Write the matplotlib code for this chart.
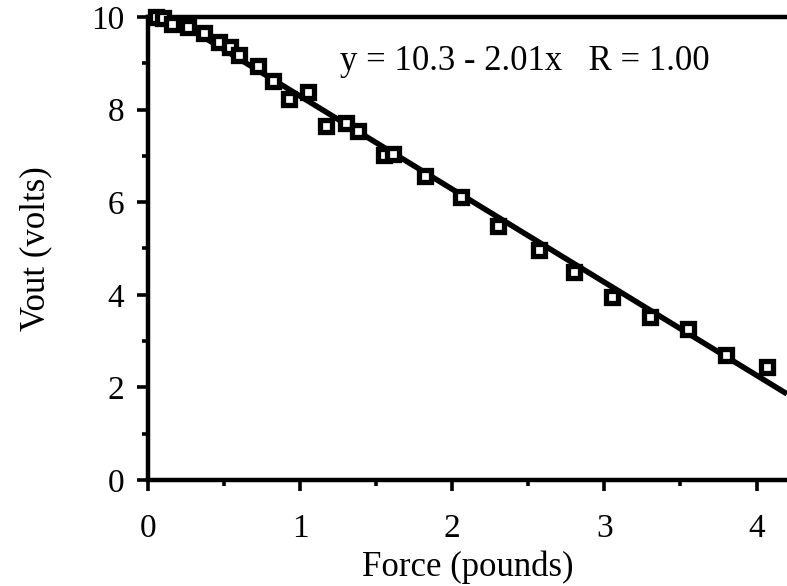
import numpy as np
import matplotlib
matplotlib.use("Agg")
import matplotlib.pyplot as plt
from matplotlib.ticker import MultipleLocator

# Measured force (pounds) and output voltage (volts)
force = [0.05, 0.10, 0.16, 0.26, 0.37, 0.47, 0.54, 0.60, 0.72, 0.82, 0.93, 1.05,
         1.17, 1.30, 1.38, 1.55, 1.61, 1.82, 2.06, 2.30, 2.57, 2.80, 3.05, 3.30,
         3.55, 3.80, 4.07]
vout = [10.00, 9.98, 9.85, 9.78, 9.65, 9.45, 9.35, 9.18, 8.95, 8.62, 8.22, 8.38,
        7.65, 7.70, 7.53, 7.02, 7.04, 6.57, 6.12, 5.48, 4.97, 4.49, 3.96, 3.52,
        3.26, 2.70, 2.44]

# Linear fit coefficients shown on the chart
intercept = 10.3
slope = -2.01
r_value = 1.00

xticks = [0, 1, 2, 3, 4]
yticks = [0, 2, 4, 6, 8, 10]

plt.rcParams['font.family'] = ['Liberation Serif', 'DejaVu Serif']

fig = plt.figure(figsize=(7.87, 5.86), dpi=100)
ax = fig.add_axes([0.188, 0.181, 0.812, 0.790])

xfit = np.linspace(0, 4.2, 200)
ax.plot(xfit, intercept + slope * xfit, color='black', lw=4, zorder=2,
        solid_capstyle='butt')
ax.plot(force, vout, linestyle='none', marker='s', markersize=9,
        markerfacecolor='white', markeredgecolor='black', markeredgewidth=3.8,
        zorder=3, clip_on=False)

ax.set_xlim(0, 4.2)
ax.set_ylim(0, 10)
ax.set_xticks(xticks)
ax.set_yticks(yticks)
ax.xaxis.set_minor_locator(MultipleLocator(0.5))
ax.yaxis.set_minor_locator(MultipleLocator(1))

for side in ('left', 'bottom', 'top'):
    ax.spines[side].set_linewidth(3.2)
ax.spines['right'].set_visible(False)

ax.tick_params(which='major', direction='out', length=8, width=2.6,
               labelsize=24, top=False, right=False)
ax.tick_params(which='minor', direction='out', length=4, width=2.6,
               top=False, right=False)
ax.tick_params(axis='y', which='major', pad=9)
ax.tick_params(axis='x', which='major', pad=16)

ax.set_xlabel('Force (pounds)', fontsize=25, labelpad=5)
ax.set_ylabel('Vout (volts)', fontsize=25, labelpad=28)

ax.text(1.26, 9.03, f'y = {intercept:.1f} - {abs(slope):.2f}x   R = {r_value:.2f}',
        fontsize=25, ha='left', va='center')

fig.savefig('out.png', dpi=100)
